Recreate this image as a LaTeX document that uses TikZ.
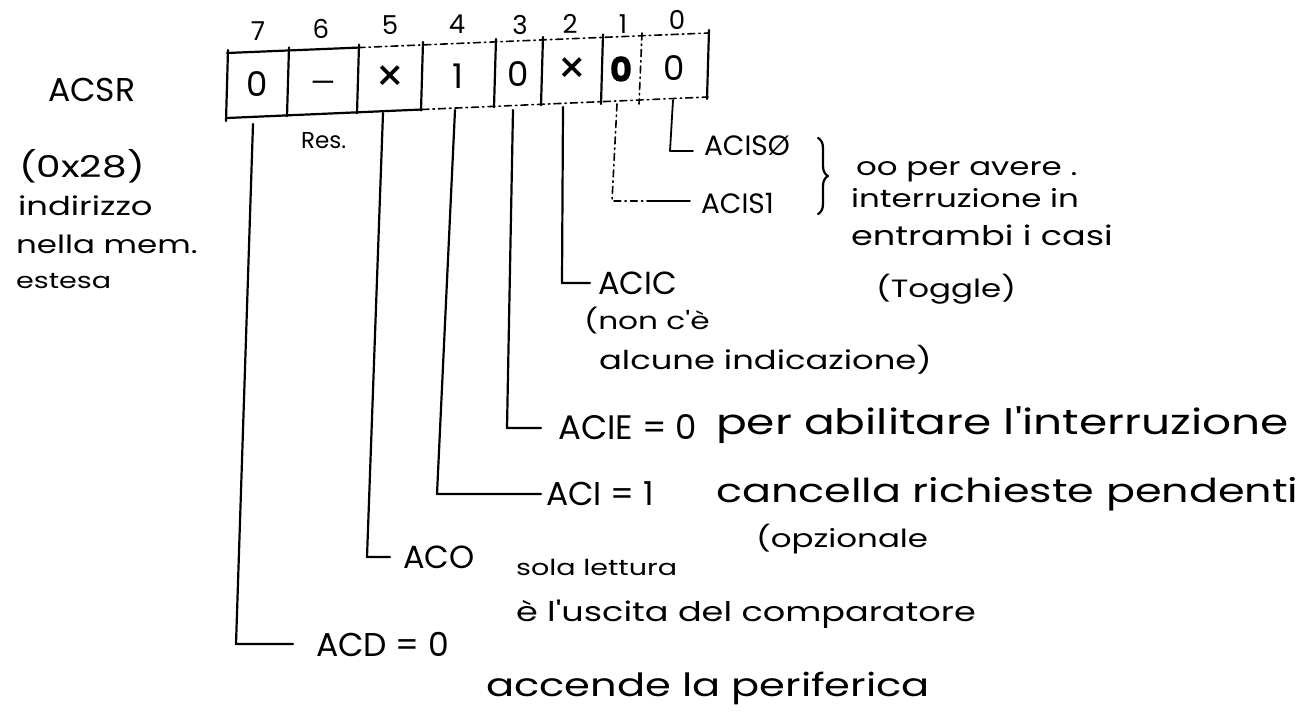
\documentclass[tikz,border=0pt]{standalone}
\usepackage{fontspec}
\setmainfont{Poppins}[FakeBold=0.6]
\newfontfamily\hw{Poppins}[FakeStretch=1.3]
\newfontfamily\cl{Poppins}
\usetikzlibrary{decorations.pathreplacing}
\tikzset{
  labtxt/.style={font=\cl\fontsize{#1}{#1}\selectfont, anchor=base west, inner sep=0pt},
  hwtxt/.style={font=\hw\fontsize{#1}{#1}\selectfont, anchor=base west, inner sep=0pt},
  cellval/.style={font=\cl\fontsize{34}{34}\selectfont, inner sep=0pt},
  bitnum/.style={font=\cl\fontsize{26}{26}\selectfont, inner sep=0pt},
  regdash/.style={dash pattern=on 7pt off 4pt on 1.5pt off 4pt, line width=1.6pt},
  bitline/.style={line width=2.2pt},
}
\begin{document}
\begin{tikzpicture}[x=1pt,y=-1pt,line width=2.2pt,line cap=round,line join=round]
\useasboundingbox (0,0) rectangle (1315,718);

% register outline
\draw (227,53) -- (358,47.6);
\draw[regdash] (358,47.6) -- (708,33);
\draw (227,118) -- (422,109.5);
\draw[regdash] (422,109.5) -- (708,97);
\foreach \x/\t/\b in {227/50/121, 288/47.5/116.3, 358/44.6/113.3, 422/42/110.5, 495/39/107.3, 542/37/105.2, 602/34.4/104, 708/30/99}
  \draw (\x+1,\t) -- (\x-1,\b);
\draw[regdash] (642,33) -- (639,104);

% bit numbers
\node[bitnum] (n7) at (258,31) {7};
\node[bitnum] (n6) at (321,29) {6};
\node[bitnum] (n5) at (390,25) {5};
\node[bitnum] (n4) at (457,24) {4};
\node[bitnum] (n3) at (520,25) {3};
\node[bitnum] (n2) at (570,24) {2};
\node[bitnum] (n1) at (623,24) {1};
\node[bitnum] (n0) at (677,20) {0};

% cell values
\node[cellval] (c7) at (257,84) {0};
\node[cellval,font=\cl\fontsize{28}{28}\selectfont] (c6) at (323,87) {—};
\node[cellval,font=\cl\fontsize{46}{46}\selectfont] (c5) at (390,79) {×};
\node[cellval] (c4) at (458,76) {1};
\node[cellval] (c3) at (518,74) {0};
\node[cellval,font=\cl\fontsize{46}{46}\selectfont] (c2) at (572,71) {×};
\node[cellval,font=\bfseries\fontsize{34}{34}\selectfont] (c1) at (621,69) {0};
\node[cellval] (c0) at (674,68) {0};

% left texts
\node[labtxt=33] (lACSR) at (47,101.5) {ACSR};
\node[hwtxt=30] (laddr) at (18,177) {(0x28)};
\node[hwtxt=26] (lind) at (17,215) {indirizzo};
\node[hwtxt=25] (lnella) at (15,253) {nella mem.};
\node[hwtxt=22] (lest) at (15,288) {estesa};
\node[labtxt=23] (lres) at (300,148) {Res.};

% labels
\node[labtxt=28] (lACIS0) at (703,155) {ACISØ};
\node[labtxt=28] (lACIS1) at (700,213) {ACIS1};
\node[labtxt=32] (lACIC) at (597,294) {ACIC};
\node[labtxt=34] (lACIE) at (557,439) {ACIE = 0};
\node[labtxt=33] (lACI) at (545,505) {ACI = 1};
\node[labtxt=32] (lACO) at (402,568) {ACO};
\node[labtxt=33] (lACD) at (315,656) {ACD = 0};

% descriptions
\node[hwtxt=25] (t1) at (855,175) {oo per avere .};
\node[hwtxt=25] (t2) at (850,207) {interruzione in};
\node[hwtxt=27] (t3) at (850,245) {entrambi i casi};
\node[hwtxt=25] (t4) at (875,297) {(Toggle)};
\node[hwtxt=24] (t5) at (583,329) {(non c'è};
\node[hwtxt=26] (t6) at (598,369) {alcune indicazione)};
\node[hwtxt=35] (t7) at (715,434) {per abilitare l'interruzione};
\node[hwtxt=33] (t8) at (715,502) {cancella richieste pendenti};
\node[hwtxt=25] (t9) at (755,547) {(opzionale};
\node[hwtxt=22] (t10) at (515,575) {sola lettura};
\node[hwtxt=27] (t11) at (515,621) {è l'uscita del comparatore};
\node[hwtxt=32] (t12) at (485,696) {accende la periferica};

% brace
\coordinate (brT) at (818,138);
\coordinate (brB) at (818,214);
\draw[decorate,decoration={brace,amplitude=10pt}] (brT) -- (brB);

% bit lines
\coordinate (b7) at (253,124); \coordinate (k7) at (236,644);
\coordinate (b5) at (383,113); \coordinate (k5) at (367,557);
\coordinate (b4) at (455,110); \coordinate (k4) at (437,494);
\coordinate (b3) at (513,110); \coordinate (k3) at (507,428);
\coordinate (b2) at (563,107); \coordinate (k2) at (562,283);
\coordinate (b1) at (617,104); \coordinate (k1) at (612,201);
\coordinate (m1) at (652,201);
\coordinate (b0) at (673,100); \coordinate (k0) at (670,151);

\draw[bitline,shorten >=22pt] (b7) -- (k7) -- (k7 -| lACD.west);
\draw[bitline,shorten >=12pt] (b5) -- (k5) -- (k5 -| lACO.west);
\draw[bitline,shorten >=4pt] (b4) -- (k4) -- (k4 -| lACI.west);
\draw[bitline,shorten >=16pt] (b3) -- (k3) -- (k3 -| lACIE.west);
\draw[bitline,shorten >=7pt] (b2) -- (k2) -- (k2 -| lACIC.west);
\draw[regdash] (b1) -- (k1) -- (m1);
\draw[bitline,line width=1.8pt,shorten >=10pt] (m1) -- (m1 -| lACIS1.west);
\draw[bitline,line width=1.8pt,shorten >=10pt] (b0) -- (k0) -- (k0 -| lACIS0.west);
\end{tikzpicture}
\end{document}
